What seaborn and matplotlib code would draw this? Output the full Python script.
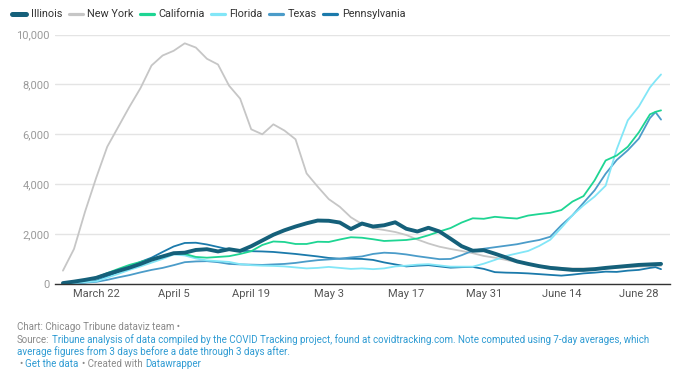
import matplotlib
matplotlib.use("Agg")
import matplotlib.pyplot as plt
from matplotlib.lines import Line2D
import seaborn as sns
import pandas as pd

# days since March 16, 2020 (every 2 days, plus the last two days)
day_offsets = list(range(0, 107, 2)) + [107, 108]
dates = pd.Timestamp("2020-03-16") + pd.to_timedelta(day_offsets, unit="D")

illinois = [30, 90, 160, 240, 390, 520, 650, 800, 970, 1100, 1230, 1250, 1360, 1390,
            1300, 1390, 1320, 1510, 1740, 1970, 2150, 2300, 2430, 2540, 2530, 2460,
            2200, 2420, 2300, 2350, 2470, 2210, 2100, 2250, 2100, 1810, 1510, 1330,
            1350, 1210, 1060, 900, 800, 710, 640, 600, 560, 560, 590, 640, 680, 720,
            760, 780, 790, 800]
new_york = [530, 1400, 2900, 4250, 5500, 6300, 7100, 7850, 8760, 9160, 9350, 9650,
            9480, 9030, 8800, 7950, 7430, 6200, 6000, 6400, 6150, 5800, 4430, 3900,
            3400, 3090, 2670, 2400, 2230, 2160, 2080, 1960, 1780, 1620, 1490, 1400,
            1320, 1230, 1120, 1050, 960, 870, 800, 730, 680, 640, 620, 620, 620, 620,
            650, 670, 690, 710, 720, 720]
california = [20, 70, 150, 260, 430, 600, 760, 880, 1000, 1120, 1230, 1200, 1080, 1050,
              1080, 1110, 1200, 1310, 1560, 1700, 1680, 1600, 1600, 1690, 1680, 1780,
              1870, 1850, 1790, 1720, 1740, 1760, 1820, 1950, 2100, 2240, 2460, 2630,
              2610, 2690, 2650, 2620, 2740, 2800, 2850, 2960, 3300, 3520, 4150, 4950,
              5150, 5500, 6080, 6800, 6900, 6960]
florida = [10, 40, 70, 100, 250, 400, 560, 700, 850, 1000, 1180, 1140, 1020, 940, 910,
           880, 790, 750, 730, 720, 700, 660, 620, 640, 680, 640, 600, 620, 590, 620,
           700, 730, 770, 790, 740, 690, 690, 690, 810, 960, 1120, 1220, 1320, 1520,
           1770, 2250, 2750, 3150, 3500, 3940, 5400, 6560, 7120, 7880, 8150, 8400]
texas = [10, 30, 50, 80, 160, 260, 350, 460, 560, 640, 750, 870, 900, 910, 870, 800,
         780, 770, 760, 780, 800, 840, 900, 950, 980, 1010, 1060, 1100, 1200, 1250,
         1230, 1180, 1110, 1050, 990, 1000, 1150, 1330, 1410, 1470, 1530, 1590, 1680,
         1760, 1890, 2350, 2750, 3250, 3750, 4420, 4970, 5360, 5830, 6650, 6890, 6590]
pennsylvania = [10, 30, 60, 120, 300, 480, 680, 880, 1050, 1280, 1500, 1640, 1650, 1580,
                1480, 1380, 1330, 1310, 1300, 1280, 1240, 1200, 1150, 1100, 1040, 1010,
                1010, 1000, 960, 860, 780, 700, 730, 750, 700, 650, 670, 680, 600, 470,
                450, 440, 420, 390, 360, 330, 370, 420, 450, 490, 480, 530, 560, 640,
                670, 590]

series = {
    "Illinois": illinois,
    "New York": new_york,
    "California": california,
    "Florida": florida,
    "Texas": texas,
    "Pennsylvania": pennsylvania,
}
colors = {
    "Illinois": "#15607a",
    "New York": "#c6c6c6",
    "California": "#1ed593",
    "Florida": "#82e6f7",
    "Texas": "#4b9cc9",
    "Pennsylvania": "#1b7aab",
}
widths = {"Illinois": 2.8}

x_ticks = ["2020-03-22", "2020-04-05", "2020-04-19", "2020-05-03",
           "2020-05-17", "2020-05-31", "2020-06-14", "2020-06-28"]
x_tick_labels = ["March 22", "April 5", "April 19", "May 3",
                 "May 17", "May 31", "June 14", "June 28"]
y_ticks = [0, 2000, 4000, 6000, 8000, 10000]

sns.set_style("white")
plt.rcParams["font.family"] = ["Roboto", "DejaVu Sans"]

fig = plt.figure(figsize=(6.8, 3.8), dpi=100)
ax = fig.add_axes([0.081, 0.253, 0.904, 0.656])

draw_order = ["New York", "Pennsylvania", "Texas", "Florida", "California", "Illinois"]
for i, name in enumerate(draw_order):
    sns.lineplot(x=dates, y=series[name], ax=ax, color=colors[name],
                 linewidth=widths.get(name, 1.3), zorder=3 + i)

ax.set_ylim(0, 10000)
ax.set_xlim(pd.Timestamp("2020-03-14 14:00"), pd.Timestamp("2020-07-03 14:00"))
ax.set_yticks(y_ticks)
ax.set_yticklabels([f"{v:,}" for v in y_ticks], color="#9a9a9a", fontsize=8)
ax.set_xticks(pd.to_datetime(x_ticks))
ax.set_xticklabels(x_tick_labels, color="#555555", fontsize=8)
ax.tick_params(axis="both", length=0, pad=4)
ax.grid(axis="y", color="#e4e4e4", linewidth=1)
ax.set_axisbelow(True)
for side in ["top", "right", "left"]:
    ax.spines[side].set_visible(False)
ax.spines["bottom"].set_color("#333333")
ax.spines["bottom"].set_linewidth(1)
ax.spines["bottom"].set_zorder(20)
ax.set_xlabel("")
ax.set_ylabel("")

handles = [Line2D([0], [0], color=colors[n], linewidth=widths.get(n, 1.5) + 0.8,
                  solid_capstyle="round") for n in series]
fig.legend(handles, list(series.keys()), loc="center left", bbox_to_anchor=(0.018, 0.962),
           ncol=6, frameon=False, fontsize=7.8, handlelength=1.3, handletextpad=0.4,
           columnspacing=0.6, labelcolor="#333333", borderaxespad=0, borderpad=0)

# footer
gray = "#8a8a8a"
blue = "#2e9bd3"
fs = 7.0
renderer = fig.canvas.get_renderer()


def put_pieces(y, pieces, x0=17, gap=3):
    x = x0
    for txt, col in pieces:
        t = fig.text(x / 680, 1 - y / 380, txt, color=col, fontsize=fs, va="center")
        x = t.get_window_extent(renderer).x1 + gap


put_pieces(327, [("Chart: Chicago Tribune dataviz team •", gray)])
put_pieces(340, [("Source:", gray),
                 ("Tribune analysis of data compiled by the COVID Tracking project, found at "
                  "covidtracking.com. Note computed using 7-day averages, which", blue)])
put_pieces(352, [("average figures from 3 days before a date through 3 days after.", blue)])
put_pieces(364, [("•", gray), ("Get the data", blue), ("• Created with", gray),
                 ("Datawrapper", blue)], x0=19)

fig.savefig("out.png", dpi=100)
